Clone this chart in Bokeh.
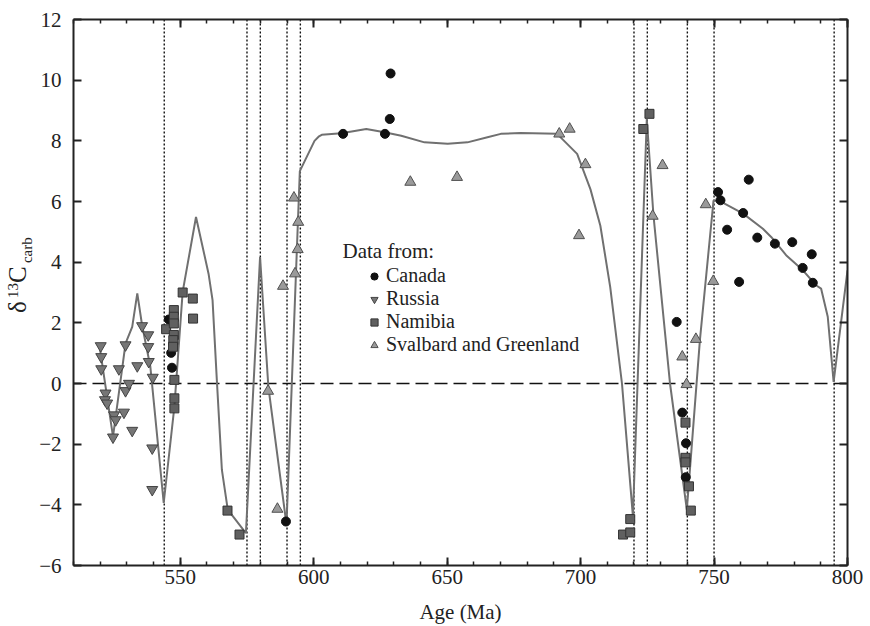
import math
from bokeh.plotting import figure
from bokeh.layouts import row
from bokeh.models import (LinearAxis, SingleIntervalTicker, Span, Label, Legend,
                          LegendItem, CustomJSTickFormatter, Range1d)
from bokeh.core.properties import value
from bokeh.embed import file_html
from bokeh.resources import INLINE

FONT = "Liberation Serif"

# ---------------- data ----------------
curve_age = [519.8, 524.8, 529.5, 532.0, 533.9, 535.7, 538.8, 543.8, 547.8, 550.9,
             555.9, 560.6, 562.1, 563.7, 565.6, 567.8, 574.6, 579.9, 583.0, 589.8,
             594.8, 600.3, 602.0, 603.0, 610.4, 619.7, 626.5, 632.8, 641.5, 650.2,
             657.6, 665.1, 670.1, 677.5, 691.2, 698.7, 703.7, 707.4, 711.1, 715.5,
             719.6, 724.8, 727.3, 733.5, 739.8, 744.7, 749.8, 752.2, 760.9, 768.3,
             771.4, 777.0, 783.3, 788.2, 790.1, 792.6, 794.8, 800.0]
curve_d13c = [1.21, -1.75, 1.32, 1.87, 2.97, 1.92, 0.55, -3.94, -0.76, 3.02,
              5.49, 3.62, 2.75, 0.12, -2.85, -4.16, -4.93, 4.17, -0.10, -4.65,
              7.00, 8.00, 8.15, 8.20, 8.25, 8.39, 8.28, 8.17, 7.95, 7.90,
              7.95, 8.12, 8.23, 8.26, 8.23, 7.57, 6.40, 5.20, 3.18, 0.00,
              -4.38, 8.72, 5.54, 0.00, -4.16, 1.43, 6.03, 6.01, 5.60, 5.10,
              4.83, 4.23, 3.73, 3.24, 3.13, 2.20, 0.05, 3.73]

canada_age = [545.7, 546.6, 546.9, 589.6, 611.0, 626.7, 628.5, 628.8, 736.0, 738.1,
              739.5, 739.4, 751.5, 752.4, 754.9, 759.4, 760.9, 763.0, 766.2, 772.8,
              779.3, 783.2, 786.6, 787.0]
canada_d13c = [2.11, 1.01, 0.52, -4.55, 8.23, 8.23, 8.72, 10.22, 2.03, -0.96,
               -1.97, -3.09, 6.31, 6.04, 5.07, 3.35, 5.62, 6.72, 4.81, 4.61,
               4.66, 3.81, 4.26, 3.32]

russia_age = [520.2, 520.4, 520.4, 522.0, 521.8, 522.6, 525.2, 525.8, 524.8, 527.0,
              528.9, 529.5, 530.8, 529.5, 532.0, 533.9, 535.7, 538.0, 538.0, 538.2,
              539.7, 539.5, 539.5]
russia_d13c = [1.24, 0.88, 0.48, -0.32, -0.54, -0.65, -1.04, -1.20, -1.77, 0.48,
               -0.95, -0.24, 0.00, 1.27, -1.55, 0.58, 1.90, 1.60, 1.21, 0.72,
               0.20, -2.13, -3.50]

namibia_age = [544.7, 547.6, 547.6, 547.6, 547.6, 547.4, 547.3, 547.8, 547.8, 547.8,
               550.9, 554.7, 554.8, 567.7, 572.2, 715.9, 718.6, 718.6, 723.5, 725.8,
               739.3, 739.3, 739.3, 740.6, 741.3]
namibia_d13c = [1.79, 2.42, 2.20, 1.98, 1.60, 1.43, 1.21, 0.12, -0.49, -0.82,
                3.00, 2.80, 2.14, -4.19, -4.98, -4.98, -4.91, -4.47, 8.39, 8.89,
                -1.29, -2.45, -2.60, -3.39, -4.19]

svalbard_age = [582.9, 586.4, 588.5, 593.0, 594.0, 594.2, 592.6, 636.2, 653.7, 692.0,
                695.9, 699.4, 701.8, 727.0, 730.7, 738.1, 739.7, 743.2, 746.9, 749.7]
svalbard_d13c = [-0.25, -4.14, 3.21, 3.62, 4.42, 5.32, 6.12, 6.64, 6.80, 8.23,
                 8.39, 4.88, 7.22, 5.52, 7.19, 0.88, -0.03, 1.46, 5.90, 3.37]

boundary_ages = [544, 575, 580, 590, 595, 720, 725, 740, 750, 795]

x_ticks_interval = 50
y_ticks_interval = 2

W, H = 870, 626
LEFT_W = 36            # strip carrying the y-axis title
F_LEFT, F_RIGHT, F_TOP, F_BOTTOM = 71, 23, 19, 60

# ---------------- main figure ----------------
p = figure(width=W - LEFT_W, height=H, output_backend="svg", toolbar_location=None,
           x_range=Range1d(510, 800), y_range=Range1d(-6, 12),
           x_axis_location=None, y_axis_location=None,
           min_border_left=F_LEFT - LEFT_W, min_border_right=F_RIGHT,
           min_border_top=F_TOP, min_border_bottom=F_BOTTOM)
p.grid.visible = False
p.outline_line_color = None
p.background_fill_color = "white"
p.border_fill_color = "white"

AX = "#222222"


def style_axis(ax, labels, minor):
    ax.axis_line_width = 2
    ax.axis_line_color = AX
    ax.major_tick_in = 8
    ax.major_tick_out = 0
    ax.major_tick_line_width = 2
    ax.major_tick_line_color = AX
    if minor:
        ax.minor_tick_in = 4
        ax.minor_tick_out = 0
        ax.minor_tick_line_width = 1.5
        ax.minor_tick_line_color = AX
    else:
        ax.minor_tick_line_color = None
    ax.major_label_text_font = FONT
    ax.major_label_text_font_size = "21px"
    ax.major_label_text_color = AX
    if not labels:
        ax.formatter = CustomJSTickFormatter(code="return '';")


minus_fmt = "return tick < 0 ? '\u2212' + String(-tick) : String(tick);"

xb = LinearAxis(ticker=SingleIntervalTicker(interval=x_ticks_interval, num_minor_ticks=5))
style_axis(xb, True, True)
xb.major_label_standoff = 4
xb.axis_label = "Age (Ma)"
xb.axis_label_text_font = FONT
xb.axis_label_text_font_size = "21px"
xb.axis_label_text_font_style = "normal"
xb.axis_label_text_color = AX
xb.axis_label_standoff = 13
xt = LinearAxis(ticker=SingleIntervalTicker(interval=x_ticks_interval, num_minor_ticks=5))
style_axis(xt, False, True)
yl = LinearAxis(ticker=SingleIntervalTicker(interval=y_ticks_interval, num_minor_ticks=0))
style_axis(yl, True, False)
yl.formatter = CustomJSTickFormatter(code=minus_fmt)
yl.major_label_standoff = 12
yr = LinearAxis(ticker=SingleIntervalTicker(interval=y_ticks_interval, num_minor_ticks=0))
style_axis(yr, False, False)

p.add_layout(xb, "below")
p.add_layout(xt, "above")
p.add_layout(yl, "left")
p.add_layout(yr, "right")

# boundaries (dotted)
for a in boundary_ages:
    p.add_layout(Span(location=a, dimension="height", line_color="#111111",
                      line_width=1.4, line_dash="2 2", level="underlay"))
# zero line
p.add_layout(Span(location=0, dimension="width", line_color="#111111",
                  line_width=1.5, line_dash="13 6", level="underlay"))

# model curve
p.line(curve_age, curve_d13c, line_color="#707070", line_width=2)

# data
r_can = p.scatter(canada_age, canada_d13c, marker="circle", size=9,
                  fill_color="#111111", line_color="#111111")
r_rus = p.scatter(russia_age, russia_d13c, marker="inverted_triangle", size=11,
                  fill_color="#767676", line_color="#444444", line_width=1)
r_nam = p.scatter(namibia_age, namibia_d13c, marker="square", size=9,
                  fill_color="#606060", line_color="#333333", line_width=1)
r_sva = p.scatter(svalbard_age, svalbard_d13c, marker="triangle", size=11,
                  fill_color="#9a9a9a", line_color="#505050", line_width=1)

legend = Legend(items=[LegendItem(label="Canada", renderers=[r_can]),
                       LegendItem(label="Russia", renderers=[r_rus]),
                       LegendItem(label="Namibia", renderers=[r_nam]),
                       LegendItem(label="Svalbard and Greenland", renderers=[r_sva])],
                location=(292, 209))
legend.border_line_color = None
legend.background_fill_alpha = 0
legend.padding = 0
legend.margin = 0
legend.spacing = 0
legend.glyph_width = 18
legend.glyph_height = 20
legend.label_height = 20
legend.label_standoff = 3
legend.label_text_font = FONT
legend.label_text_font_size = "20px"
legend.label_text_color = AX
p.add_layout(legend, "center")

p.add_layout(Label(x=269, y=315, x_units="screen", y_units="screen", text="Data from:",
                   text_font=FONT, text_font_size="21px", text_color=AX,
                   text_baseline="alphabetic", text_align="left"))

# ---------------- y-axis title strip ----------------
# the strip's frame is aligned with the main frame, so its y range is set up to
# read in page pixels (measured from the top of the page).
lf = figure(width=LEFT_W, height=H, output_backend="svg", toolbar_location=None,
            x_range=Range1d(0, LEFT_W), y_range=Range1d(F_BOTTOM, H - F_TOP),
            x_axis_location=None, y_axis_location=None,
            min_border_left=0, min_border_right=0,
            min_border_top=F_TOP, min_border_bottom=F_BOTTOM)
lf.grid.visible = False
lf.outline_line_color = None
lf.background_fill_color = "white"
lf.border_fill_color = "white"

ang = math.pi / 2
# (text, centre x, start y, size)
ylabel_parts = [("\u03b4", 17, 313, "25px"), ("13", 12, 298, "15px"),
                ("C", 17, 283, "25px"), ("carb", 26, 263, "15px")]
for txt, sx, sy, fs in ylabel_parts:
    lf.text(x=[sx], y=[H - sy], text=[txt], angle=ang, text_font=value(FONT),
            text_font_size=value(fs), text_color=AX, text_baseline="middle",
            text_align="left")

layout = row(lf, p, spacing=0)
open("out.html", "w").write(file_html(layout, INLINE))
